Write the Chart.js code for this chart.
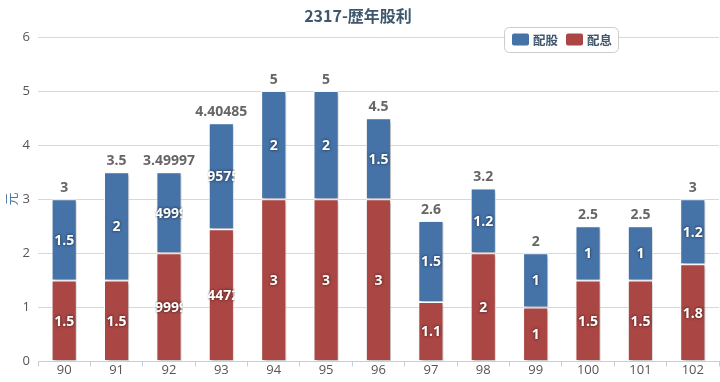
<!DOCTYPE html>
<html>
<head>
<meta charset="utf-8">
<script src="https://cdn.jsdelivr.net/npm/chart.js@4/dist/chart.umd.min.js"></script>
<style>
html,body{margin:0;padding:0;background:#fff;}
#wrap{width:720px;height:382px;position:relative;}
</style>
</head>
<body>
<div id="wrap"><canvas id="c" width="720" height="382"></canvas></div>
<script>
const titleText = '2317-歴年股利';
const yAxisTitle = '元';
const categories = ['90','91','92','93','94','95','96','97','98','99','100','101','102'];
const cashDividend = [1.5, 1.5, 1.99999, 2.44728, 3, 3, 3, 1.1, 2, 1, 1.5, 1.5, 1.8];   // 配息
const stockDividend = [1.5, 2, 1.49998, 1.95757, 2, 2, 1.5, 1.5, 1.2, 1, 1, 1, 1.2];   // 配股
const yTicks = [0, 1, 2, 3, 4, 5, 6];

const COLORS = { stock: '#4572A7', cash: '#AA4643' };
const CJK = '"Noto Sans CJK TC", "Noto Sans CJK SC", sans-serif';
const LAT = '"Open Sans", "DejaVu Sans", sans-serif';

function fmt(v){ return String(parseFloat(v.toFixed(5))); }

const shadowPlugin = {
  id: 'barShadow',
  beforeDatasetsDraw(chart){
    const ctx = chart.ctx;
    ctx.save();
    ctx.shadowColor = 'rgba(0,0,0,0.28)';
    ctx.shadowBlur = 3;
    ctx.shadowOffsetX = 1.5;
    ctx.shadowOffsetY = 1.5;
  },
  afterDatasetsDraw(chart){
    chart.ctx.restore();
  }
};

const labelPlugin = {
  id: 'labels',
  afterDatasetsDraw(chart){
    const ctx = chart.ctx;
    // in-bar labels
    chart.data.datasets.forEach((ds, di) => {
      const meta = chart.getDatasetMeta(di);
      meta.data.forEach((bar, i) => {
        const v = ds.data[i];
        const p = bar.getProps(['x','y','base','width'], true);
        const cy = (p.y + p.base) / 2;
        ctx.save();
        ctx.beginPath();
        ctx.rect(p.x - p.width/2 - 1, Math.min(p.y, p.base), p.width + 2, Math.abs(p.base - p.y));
        ctx.clip();
        ctx.font = 'bold 14px ' + LAT;
        ctx.textAlign = 'center';
        ctx.textBaseline = 'middle';
        ctx.shadowColor = 'rgba(0,0,0,0.7)';
        ctx.shadowBlur = 3;
        ctx.fillStyle = '#ffffff';
        ctx.fillText(fmt(v), p.x, cy + 1);
        ctx.restore();
      });
    });
    // stack totals
    ctx.save();
    ctx.font = 'bold 14px ' + LAT;
    ctx.textAlign = 'center';
    ctx.textBaseline = 'middle';
    ctx.fillStyle = '#666666';
    const yScale = chart.scales.y;
    const xScale = chart.scales.x;
    categories.forEach((c, i) => {
      const total = cashDividend[i] + stockDividend[i];
      const x = xScale.getPixelForValue(i);
      const y = yScale.getPixelForValue(total);
      ctx.fillText(fmt(total), x, y - 11);
    });
    ctx.restore();
  },
  afterDraw(chart){
    const ctx = chart.ctx;
    // title
    ctx.save();
    ctx.font = 'bold 16px ' + CJK;
    ctx.fillStyle = '#3E576F';
    ctx.textAlign = 'center';
    ctx.textBaseline = 'middle';
    ctx.fillText(titleText, 358, 16);
    ctx.restore();
    // y axis title
    ctx.save();
    ctx.translate(11, 199);
    ctx.rotate(-Math.PI/2);
    ctx.font = '13px ' + CJK;
    ctx.fillStyle = '#4d759e';
    ctx.textAlign = 'center';
    ctx.textBaseline = 'middle';
    ctx.fillText(yAxisTitle, 0, 0);
    ctx.restore();
    // legend
    ctx.save();
    const bx = 504.5, by = 27.5, bw = 114, bh = 25;
    ctx.beginPath();
    ctx.roundRect(bx, by, bw, bh, 5);
    ctx.fillStyle = '#ffffff';
    ctx.fill();
    ctx.strokeStyle = '#cccccc';
    ctx.lineWidth = 1;
    ctx.stroke();
    const items = [chart.data.datasets[1], chart.data.datasets[0]];
    let x = 512;
    ctx.font = 'bold 12.5px ' + CJK;
    ctx.textBaseline = 'middle';
    ctx.textAlign = 'left';
    items.forEach(ds => {
      ctx.beginPath();
      ctx.roundRect(x, 33.5, 17, 12, 2);
      ctx.fillStyle = ds.backgroundColor;
      ctx.fill();
      ctx.fillStyle = '#3E576F';
      ctx.fillText(ds.label, x + 21, 40);
      x += 21 + ctx.measureText(ds.label).width + 8;
    });
    ctx.restore();
  }
};

new Chart(document.getElementById('c'), {
  type: 'bar',
  data: {
    labels: categories,
    datasets: [
      { label: '配息', data: cashDividend, backgroundColor: COLORS.cash,
        borderColor: 'rgba(255,255,255,0.85)', borderWidth: 1, borderSkipped: false,
        categoryPercentage: 0.5, barPercentage: 0.96 },
      { label: '配股', data: stockDividend, backgroundColor: COLORS.stock,
        borderColor: 'rgba(255,255,255,0.85)', borderWidth: 1, borderSkipped: false,
        categoryPercentage: 0.5, barPercentage: 0.96 }
    ]
  },
  options: {
    responsive: false,
    animation: false,
    devicePixelRatio: 1,
    layout: { padding: { top: 37, right: 1, left: 0, bottom: 0 } },
    plugins: { legend: { display: false }, title: { display: false }, tooltip: { enabled: false } },
    scales: {
      x: {
        stacked: true,
        afterFit(s){ s.height = 20.5; },
        grid: { display: true, drawOnChartArea: false, drawTicks: true, tickLength: 5, color: '#C0D0E0', offset: true },
        border: { display: true, color: '#C0D0E0', width: 1 },
        ticks: { color: '#555555', font: { family: LAT, size: 13 }, padding: -4 }
      },
      y: {
        stacked: true,
        min: 0, max: 6,
        afterFit(s){ s.width = 38; },
        afterBuildTicks(s){ s.ticks = yTicks.map(v => ({ value: v })); },
        grid: { color: '#d8d8d8', drawTicks: false },
        border: { display: false },
        ticks: { color: '#555555', font: { family: LAT, size: 13 }, padding: 8 }
      }
    }
  },
  plugins: [shadowPlugin, labelPlugin]
});
</script>
</body>
</html>
